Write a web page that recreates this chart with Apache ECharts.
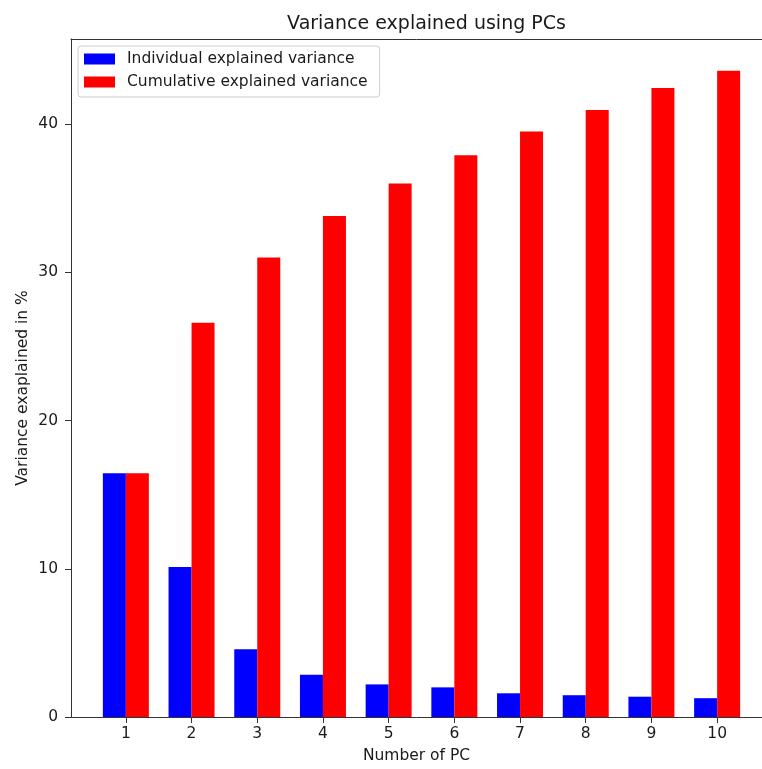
<!DOCTYPE html>
<html>
<head>
<meta charset="utf-8">
<script src="https://cdn.jsdelivr.net/npm/echarts@6/dist/echarts.min.js"></script>
<style>
  html, body { margin: 0; padding: 0; background: #fff; }
  #chart { width: 762px; height: 769px; }
</style>
</head>
<body>
<div id="chart"></div>
<script>
// number of principal components
const pcs = [1, 2, 3, 4, 5, 6, 7, 8, 9, 10];
// explained variance per PC, in %
const individual = [16.45, 10.13, 4.57, 2.85, 2.2, 2.0, 1.6, 1.47, 1.37, 1.27];
// running total, in %
const cumulative = [16.45, 26.6, 31.0, 33.8, 36.0, 37.9, 39.5, 40.96, 42.44, 43.6];
const yTicks = [0, 10, 20, 30, 40];

const chart = echarts.init(document.getElementById('chart'), null, { renderer: 'canvas' });
const font = 'DejaVu Sans';
const ink = '#1a1a1a';
const axisColor = '#333';
// x range of the plot (the picture is cut off on the right)
const xMin = 0.165, xMax = 10.683;

const option = {
    backgroundColor: '#FFFFFF',
    animation: false,
    title: {
        text: 'Variance explained using PCs',
        left: 421.5,
        top: 10,
        textAlign: 'center',
        textStyle: { fontFamily: font, fontSize: 19, fontWeight: 'normal', color: ink }
    },
    legend: {
        orient: 'vertical',
        left: 78,
        top: 46,
        padding: [5, 12, 7, 6],
        itemGap: 7,
        itemWidth: 31,
        itemHeight: 11,
        borderColor: '#cccccc',
        borderWidth: 1,
        borderRadius: 3,
        backgroundColor: '#ffffff',
        icon: 'rect',
        textStyle: { fontFamily: font, fontSize: 15.5, color: ink, padding: [0, 0, 0, 7] },
        data: ['Individual explained variance', 'Cumulative explained variance']
    },
    grid: {
        left: 71,
        right: 0,
        top: 39,
        bottom: 47.5,
        containLabel: false
    },
    xAxis: [
        {
            type: 'value',
            min: xMin,
            max: xMax,
            name: 'Number of PC',
            nameLocation: 'middle',
            nameGap: 31,
            nameTextStyle: { fontFamily: font, fontSize: 15.5, color: ink },
            axisLine: { show: true, onZero: false, lineStyle: { color: axisColor } },
            axisTick: { show: true, customValues: pcs, length: 6, lineStyle: { color: axisColor } },
            splitLine: { show: false },
            axisLabel: {
                fontFamily: font, fontSize: 15.5, color: ink, margin: 9,
                customValues: pcs,
                formatter: v => String(v)
            }
        },
        {
            // top spine
            type: 'value',
            position: 'top',
            min: xMin,
            max: xMax,
            axisLine: { show: true, onZero: false, lineStyle: { color: axisColor } },
            axisTick: { show: false },
            axisLabel: { show: false },
            splitLine: { show: false }
        }
    ],
    yAxis: {
        type: 'value',
        min: 0,
        max: 45.75,
        interval: 10,
        name: 'Variance exaplained in %',
        nameLocation: 'middle',
        nameGap: 40,
        nameMoveOverlap: false,
        nameTextStyle: { fontFamily: font, fontSize: 15.5, color: ink, padding: [0, 20, 0, 0] },
        axisLine: { show: true, lineStyle: { color: axisColor } },
        axisTick: { show: true, length: 6, lineStyle: { color: axisColor } },
        splitLine: { show: false },
        axisLabel: {
            fontFamily: font, fontSize: 15.5, color: ink, margin: 13,
            showMaxLabel: false,
            formatter: v => (yTicks.indexOf(v) >= 0 ? String(v) : '')
        }
    },
    series: [
        {
            name: 'Individual explained variance',
            type: 'bar',
            data: pcs.map((p, i) => [p, individual[i]]),
            barWidth: 23,
            barGap: '0%',
            itemStyle: { color: '#0000FF' }
        },
        {
            name: 'Cumulative explained variance',
            type: 'bar',
            data: pcs.map((p, i) => [p, cumulative[i]]),
            barWidth: 23,
            barGap: '0%',
            itemStyle: { color: '#FF0000' }
        }
    ]
};

chart.setOption(option);
</script>
</body>
</html>
